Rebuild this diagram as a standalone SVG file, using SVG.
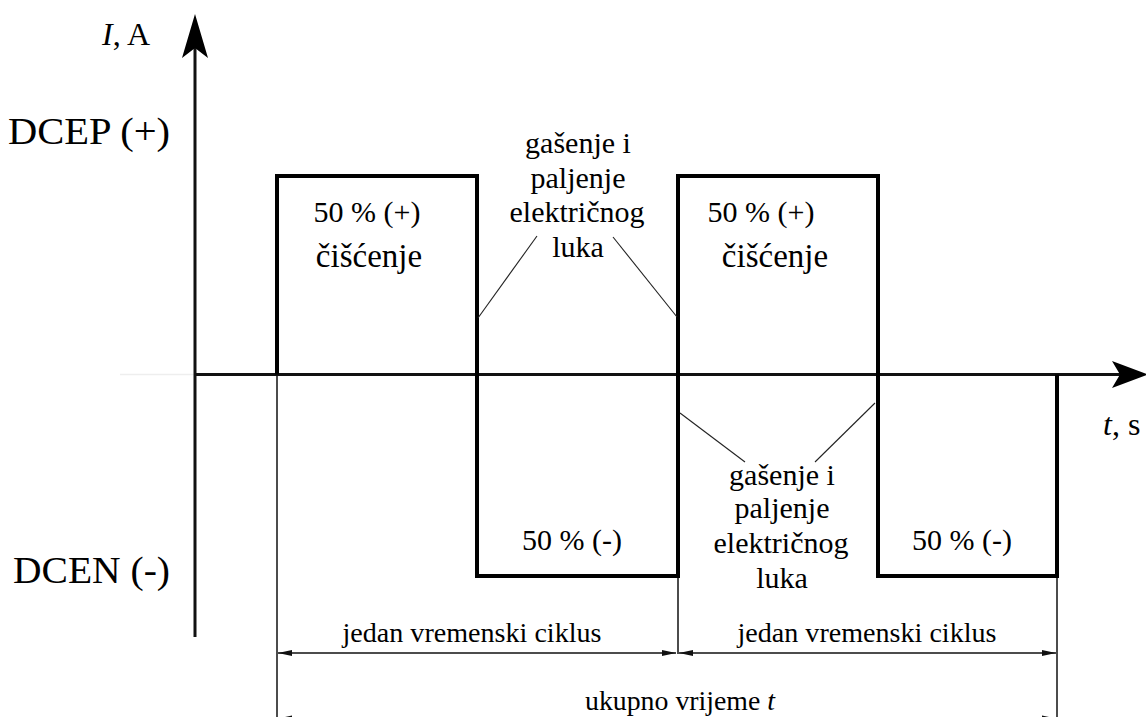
<svg xmlns="http://www.w3.org/2000/svg" width="1146" height="717" viewBox="0 0 1146 717">
<defs>
<style>
.big{font-size:38px}
.lab{font-size:30px}
.dim{font-size:28px}
.ax{stroke:#111;stroke-width:3;fill:none}
.wave{stroke:#000;stroke-width:4;fill:none;stroke-linejoin:miter}
.thin{stroke:#111;stroke-width:1.5;fill:none}
.lead{stroke:#222;stroke-width:1.1;fill:none}
</style>
<marker id="da" viewBox="0 0 14 8" refX="14" refY="4" markerWidth="14" markerHeight="8" markerUnits="userSpaceOnUse" orient="auto-start-reverse">
<path d="M0,1 L14,4 L0,7 Z" fill="#111"/>
</marker>
</defs>
<rect width="1146" height="717" fill="#fff"/>
<g id="axes" font-family="Liberation Serif">
<line x1="120" y1="374.5" x2="195" y2="374.5" stroke="#eee" stroke-width="1.5"/>
<line class="ax" x1="195" y1="637" x2="195" y2="45"/>
<path d="M195,14 L208,58 L195,48 L182,58 Z" fill="#000"/>
<line class="ax" x1="195" y1="374.5" x2="1125" y2="374.5"/>
<path d="M1148,374.5 L1112,361 L1120,374.5 L1112,388 Z" fill="#000"/>
<text x="102" y="45" font-family="Liberation Serif" font-size="32"><tspan font-style="italic">I</tspan>, A</text>
<text x="1103" y="435" font-family="Liberation Serif" font-size="32"><tspan font-style="italic">t</tspan>, s</text>
<text class="big" x="8" y="144" font-family="Liberation Serif" textLength="162" lengthAdjust="spacingAndGlyphs">DCEP (+)</text>
<text class="big" x="13" y="583" font-family="Liberation Serif" textLength="157" lengthAdjust="spacingAndGlyphs">DCEN (-)</text>
</g>
<g id="waveform">
<path class="wave" d="M277,374.5 V176 H477 V576 H678 V176 H878 V576 H1057 V374.5"/>
</g>
<g id="labels" font-family="Liberation Serif">
<text class="lab" x="367" y="222" text-anchor="middle" font-family="Liberation Serif">50 % (+)</text>
<text x="369" y="267" text-anchor="middle" font-family="Liberation Serif" font-size="33">čišćenje</text>
<text class="lab" x="761" y="222" text-anchor="middle" font-family="Liberation Serif">50 % (+)</text>
<text x="775" y="267" text-anchor="middle" font-family="Liberation Serif" font-size="33">čišćenje</text>
<text class="lab" x="572" y="550" text-anchor="middle" font-family="Liberation Serif">50 % (-)</text>
<text class="lab" x="962" y="550" text-anchor="middle" font-family="Liberation Serif">50 % (-)</text>
</g>
<g id="note-top" font-family="Liberation Serif">
<text class="lab" x="578" y="153" text-anchor="middle" font-family="Liberation Serif">gašenje i</text>
<text class="lab" x="578" y="188" text-anchor="middle" font-family="Liberation Serif">paljenje</text>
<text class="lab" x="577" y="222" text-anchor="middle" font-family="Liberation Serif">električnog</text>
<text class="lab" x="578" y="257" text-anchor="middle" font-family="Liberation Serif">luka</text>
</g>
<g id="note-bottom" font-family="Liberation Serif">
<text class="lab" x="782" y="485" text-anchor="middle" font-family="Liberation Serif">gašenje i</text>
<text class="lab" x="782" y="518" text-anchor="middle" font-family="Liberation Serif">paljenje</text>
<text class="lab" x="781" y="553" text-anchor="middle" font-family="Liberation Serif">električnog</text>
<text class="lab" x="782" y="588" text-anchor="middle" font-family="Liberation Serif">luka</text>
</g>
<g id="connectors">
<line class="lead" x1="537" y1="236" x2="478" y2="318"/>
<line class="lead" x1="613" y1="237" x2="677" y2="317"/>
<line class="lead" x1="680" y1="413" x2="745" y2="462"/>
<line class="lead" x1="815" y1="462" x2="875" y2="403"/>
<line class="thin" x1="277" y1="376" x2="277" y2="717"/>
<line class="thin" x1="678" y1="578" x2="678" y2="654"/>
<line class="thin" x1="1057" y1="578" x2="1057" y2="717"/>
<line class="thin" x1="278" y1="653" x2="676" y2="653" marker-start="url(#da)" marker-end="url(#da)"/>
<line class="thin" x1="679" y1="653" x2="1056" y2="653" marker-start="url(#da)" marker-end="url(#da)"/>
<line class="thin" x1="278" y1="718.5" x2="1056" y2="718.5" marker-start="url(#da)" marker-end="url(#da)"/>
</g>
<g id="dims" font-family="Liberation Serif">
<text class="dim" x="472" y="642" text-anchor="middle" font-family="Liberation Serif" textLength="259" lengthAdjust="spacingAndGlyphs">jedan vremenski ciklus</text>
<text class="dim" x="867" y="642" text-anchor="middle" font-family="Liberation Serif" textLength="259" lengthAdjust="spacingAndGlyphs">jedan vremenski ciklus</text>
<text class="dim" x="680" y="710" text-anchor="middle" font-family="Liberation Serif" textLength="190" lengthAdjust="spacingAndGlyphs">ukupno vrijeme <tspan font-style="italic">t</tspan></text>
</g>
</svg>
